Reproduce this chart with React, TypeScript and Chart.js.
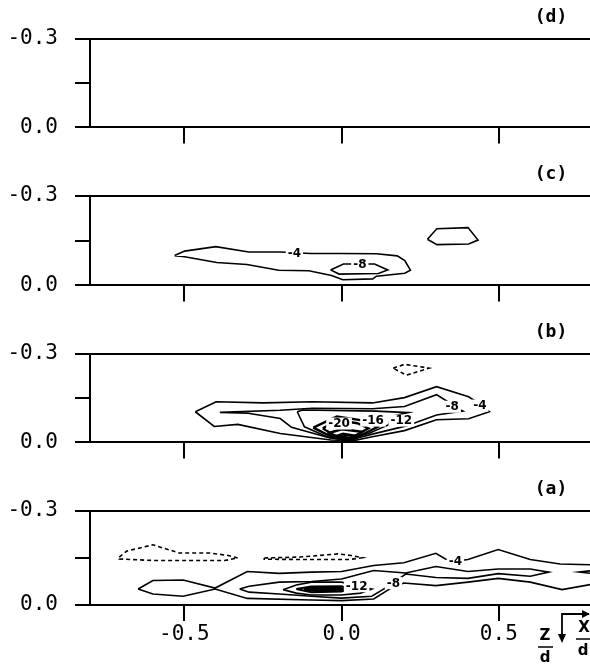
import React, { useEffect, useRef } from 'react';
import { Chart, registerables } from 'chart.js';

Chart.register(...registerables);

// ---------- axis / tick data ----------
const X_MIN = -0.8;
const X_MAX = 0.79;
const xTickValues = [-0.5, 0, 0.5];
const xTickLabels = ['-0.5', '0.0', '0.5'];
const yTickValues = [-0.3, -0.15, 0];
const yTickLabels = ['-0.3', '', '0.0'];
const panelNames = ['(d)', '(c)', '(b)', '(a)'];
const PANEL_NAME_X = 0.666;

type Pt = [number, number];

// ---------- panel (c) contours ----------
const cLevel4: Pt[] = [
  [-0.531, -0.100], [-0.499, -0.115], [-0.400, -0.130], [-0.295, -0.112], [-0.194, -0.112],
  [-0.098, -0.107], [-0.008, -0.107], [0.111, -0.106], [0.177, -0.099], [0.201, -0.083],
  [0.219, -0.051], [0.201, -0.041], [0.111, -0.031], [0.099, -0.022], [0.004, -0.019],
  [-0.032, -0.033], [-0.104, -0.049], [-0.200, -0.051], [-0.301, -0.070], [-0.397, -0.077],
  [-0.499, -0.096], [-0.531, -0.100],
];
const cLevel8: Pt[] = [
  [-0.035, -0.052], [0.006, -0.072], [0.105, -0.072], [0.147, -0.052], [0.117, -0.040],
  [-0.008, -0.038], [-0.035, -0.052],
];
const cUpper: Pt[] = [
  [0.273, -0.155], [0.303, -0.190], [0.402, -0.194], [0.434, -0.152], [0.404, -0.139],
  [0.303, -0.137], [0.273, -0.155],
];
const cLabels = [
  { x: -0.150, y: -0.109, t: '-4' },
  { x: 0.058, y: -0.072, t: '-8' },
];

// ---------- panel (b) contours ----------
const bLevel4: Pt[] = [
  [-0.465, -0.104], [-0.399, -0.138], [-0.249, -0.134], [-0.094, -0.138], [0.098, -0.134],
  [0.200, -0.152], [0.302, -0.189], [0.404, -0.155], [0.444, -0.127], [0.470, -0.104],
  [0.404, -0.080], [0.302, -0.077], [0.200, -0.040], [0.098, -0.019], [0.038, -0.006],
  [-0.034, -0.008], [-0.195, -0.030], [-0.330, -0.061], [-0.405, -0.054], [-0.465, -0.104],
];
const bLevel8: Pt[] = [
  [-0.387, -0.102], [-0.195, -0.109], [-0.094, -0.116], [0.098, -0.114], [0.200, -0.122],
  [0.302, -0.162], [0.338, -0.138], [0.356, -0.122], [0.386, -0.106], [0.302, -0.093],
  [0.206, -0.056], [0.098, -0.028], [0.026, -0.008], [-0.034, -0.014], [-0.159, -0.051],
  [-0.195, -0.081], [-0.297, -0.099], [-0.387, -0.102],
];
const bLevel12: Pt[] = [
  [-0.141, -0.104], [-0.124, -0.110], [0.110, -0.106], [0.212, -0.101], [0.158, -0.088],
  [0.150, -0.060], [0.086, -0.030], [0.014, -0.010], [-0.046, -0.019], [-0.118, -0.053],
  [-0.141, -0.104],
];
const bLevel16: Pt[] = [
  [-0.090, -0.050], [-0.015, -0.088], [0.065, -0.075], [0.115, -0.053], [0.040, -0.012],
  [-0.030, -0.018], [-0.090, -0.050],
];
const bLevel20: Pt[] = [
  [-0.060, -0.048], [-0.010, -0.075], [0.050, -0.065], [0.085, -0.048], [0.030, -0.015],
  [-0.020, -0.022], [-0.060, -0.048],
];
const bLevel24: Pt[] = [
  [-0.045, -0.030], [0.000, -0.045], [0.065, -0.036], [0.030, -0.008], [-0.045, -0.030],
];
const bLevel28: Pt[] = [
  [-0.025, -0.018], [0.005, -0.028], [0.048, -0.021], [0.020, -0.004], [-0.025, -0.018],
];
const bDashed: Pt[] = [
  [0.164, -0.252], [0.200, -0.265], [0.278, -0.252], [0.206, -0.228], [0.164, -0.252],
];
const bLabels = [
  { x: 0.440, y: -0.125, t: '-4' },
  { x: 0.352, y: -0.121, t: '-8' },
  { x: 0.100, y: -0.074, t: '-16' },
  { x: 0.190, y: -0.074, t: '-12' },
  { x: -0.008, y: -0.064, t: '-20' },
];

// ---------- panel (a) contours ----------
const aLevel4: Pt[] = [
  [-0.647, -0.051], [-0.600, -0.078], [-0.504, -0.080], [-0.402, -0.054], [-0.300, -0.107],
  [-0.198, -0.101], [-0.096, -0.105], [0.000, -0.107], [0.102, -0.126], [0.198, -0.135],
  [0.300, -0.165], [0.330, -0.147], [0.362, -0.140], [0.402, -0.145], [0.498, -0.177],
  [0.600, -0.145], [0.695, -0.131], [0.800, -0.128], [0.800, -0.067], [0.701, -0.049],
  [0.600, -0.073], [0.498, -0.085], [0.402, -0.073], [0.300, -0.062], [0.198, -0.070],
  [0.156, -0.053], [0.102, -0.019], [0.000, -0.014], [-0.096, -0.016], [-0.300, -0.021],
  [-0.402, -0.051], [-0.504, -0.028], [-0.600, -0.035], [-0.647, -0.051],
];
const aLevel8: Pt[] = [
  [-0.324, -0.051], [-0.294, -0.060], [-0.198, -0.073], [-0.096, -0.075], [0.000, -0.083],
  [0.102, -0.110], [0.204, -0.102], [0.300, -0.123], [0.402, -0.107], [0.498, -0.115],
  [0.600, -0.115], [0.659, -0.105], [0.600, -0.092], [0.498, -0.100], [0.402, -0.085],
  [0.300, -0.088], [0.204, -0.099], [0.162, -0.070], [0.144, -0.057], [0.096, -0.028],
  [0.000, -0.022], [-0.096, -0.028], [-0.198, -0.035], [-0.294, -0.041], [-0.324, -0.051],
];
const aEdge: Pt[] = [[0.800, -0.110], [0.755, -0.105], [0.800, -0.100]];
const aLevel12: Pt[] = [
  [-0.186, -0.049], [-0.144, -0.064], [-0.096, -0.073], [0.000, -0.073], [0.048, -0.060],
  [0.096, -0.051], [0.060, -0.038], [0.000, -0.032], [-0.096, -0.032], [-0.144, -0.038],
  [-0.186, -0.049],
];
const aLevel16: Pt[] = [
  [-0.144, -0.051], [-0.096, -0.059], [0.000, -0.060], [0.024, -0.051], [0.000, -0.043],
  [-0.096, -0.041], [-0.144, -0.051],
];
const aLevel20: Pt[] = [
  [-0.120, -0.051], [-0.084, -0.055], [-0.006, -0.054], [0.006, -0.049], [-0.084, -0.046],
  [-0.120, -0.051],
];
const aDashedLeft: Pt[] = [
  [-0.707, -0.153], [-0.683, -0.172], [-0.600, -0.192], [-0.516, -0.166], [-0.420, -0.166],
  [-0.360, -0.158], [-0.330, -0.150], [-0.372, -0.142], [-0.492, -0.142], [-0.600, -0.142],
  [-0.707, -0.147], [-0.707, -0.153],
];
const aDashedMid: Pt[] = [
  [-0.246, -0.150], [-0.132, -0.153], [-0.012, -0.163], [0.030, -0.158], [0.066, -0.151],
  [0.024, -0.145], [-0.072, -0.145], [-0.246, -0.146], [-0.246, -0.150],
];
const aLabels = [
  { x: 0.362, y: -0.140, t: '-4' },
  { x: 0.165, y: -0.070, t: '-8' },
  { x: 0.048, y: -0.060, t: '-12' },
];

type Contour = { pts: Pt[]; dashed?: boolean; width?: number };
type Panel = { name: string; contours: Contour[]; labels: { x: number; y: number; t: string }[]; showX: boolean };

const panels: Panel[] = [
  { name: panelNames[0], contours: [], labels: [], showX: false },
  {
    name: panelNames[1],
    contours: [{ pts: cLevel4 }, { pts: cLevel8 }, { pts: cUpper }],
    labels: cLabels,
    showX: false,
  },
  {
    name: panelNames[2],
    contours: [
      { pts: bLevel4 }, { pts: bLevel8 }, { pts: bLevel12 }, { pts: bLevel16, width: 2.4 },
      { pts: bLevel20, width: 2.4 }, { pts: bLevel24, width: 2.6 }, { pts: bLevel28, width: 3 },
      { pts: bDashed, dashed: true },
    ],
    labels: bLabels,
    showX: false,
  },
  {
    name: panelNames[3],
    contours: [
      { pts: aLevel4 }, { pts: aLevel8 }, { pts: aEdge }, { pts: aLevel12 },
      { pts: aLevel16, width: 2 }, { pts: aLevel20, width: 3 },
      { pts: aDashedLeft, dashed: true }, { pts: aDashedMid, dashed: true },
    ],
    labels: aLabels,
    showX: true,
  },
];

const MONO = '"DejaVu Sans Mono", monospace';
const PANEL_TOPS = [0, 157, 315, 472];
const CANVAS_W = 590;
const TOP_H = 39;
const PLOT_H = 94;

const labelPlugin = {
  id: 'contourLabels',
  afterDatasetsDraw(chart: any, _args: any, opts: any) {
    const items = (opts && opts.items) || [];
    const { ctx } = chart;
    const xs = chart.scales.x;
    const ys = chart.scales.y;
    ctx.save();
    ctx.font = 'bold 12px "DejaVu Sans", sans-serif';
    ctx.textAlign = 'center';
    ctx.textBaseline = 'middle';
    for (const it of items) {
      const px = xs.getPixelForValue(it.x);
      const py = ys.getPixelForValue(it.y);
      const w = ctx.measureText(it.t).width;
      ctx.fillStyle = '#fff';
      ctx.fillRect(px - w / 2 - 2, py - 6, w + 4, 12);
      ctx.fillStyle = '#000';
      ctx.fillText(it.t, px, py + 0.5);
    }
    ctx.restore();
  },
};

const axisNotePlugin = {
  id: 'axisNote',
  afterDraw(chart: any, _args: any, opts: any) {
    if (!opts || !opts.show) return;
    const { ctx, chartArea } = chart;
    const b = chartArea.bottom;
    const vx = 562;
    const hy = b + 9;
    ctx.save();
    ctx.strokeStyle = '#000';
    ctx.fillStyle = '#000';
    ctx.lineWidth = 1.8;
    ctx.beginPath();
    ctx.moveTo(vx, hy + 26);
    ctx.lineTo(vx, hy);
    ctx.lineTo(589, hy);
    ctx.stroke();
    ctx.beginPath();
    ctx.moveTo(vx - 4, hy + 20);
    ctx.lineTo(vx + 4, hy + 20);
    ctx.lineTo(vx, hy + 29);
    ctx.closePath();
    ctx.fill();
    ctx.beginPath();
    ctx.moveTo(582, hy - 4);
    ctx.lineTo(582, hy + 4);
    ctx.lineTo(590, hy);
    ctx.closePath();
    ctx.fill();
    ctx.font = 'bold 15px "DejaVu Sans", sans-serif';
    ctx.textAlign = 'center';
    ctx.textBaseline = 'middle';
    ctx.fillText('Z', 545, b + 31);
    ctx.fillText('d', 545, b + 53);
    ctx.fillText('X', 584, b + 23);
    ctx.fillText('d', 583, b + 46);
    ctx.lineWidth = 1.6;
    ctx.beginPath();
    ctx.moveTo(538, b + 42);
    ctx.lineTo(553, b + 42);
    ctx.moveTo(576, b + 34);
    ctx.lineTo(590, b + 34);
    ctx.stroke();
    ctx.restore();
  },
};

function PanelChart({ panel, height }: { panel: Panel; height: number }) {
  const ref = useRef<HTMLCanvasElement | null>(null);
  useEffect(() => {
    if (!ref.current) return;
    const bottomH = height - TOP_H - PLOT_H;
    const datasets = panel.contours.map((c) => ({
      data: c.pts.map(([x, y]) => ({ x, y })),
      borderColor: '#000',
      borderWidth: c.width ?? 1.6,
      borderDash: c.dashed ? [4, 3] : [],
      pointRadius: 0,
      tension: 0,
      fill: false,
      showLine: true,
    }));
    const chart = new Chart(ref.current, {
      type: 'line',
      data: { datasets },
      plugins: [labelPlugin, axisNotePlugin],
      options: {
        animation: false,
        responsive: false,
        maintainAspectRatio: false,
        events: [],
        layout: { padding: 0 },
        plugins: {
          legend: { display: false },
          tooltip: { enabled: false },
          contourLabels: { items: panel.labels },
          axisNote: { show: panel.showX },
        } as any,
        scales: {
          x: {
            type: 'linear',
            position: 'bottom',
            min: X_MIN,
            max: X_MAX,
            afterBuildTicks: (s: any) => {
              s.ticks = xTickValues.map((v) => ({ value: v }));
            },
            afterFit: (s: any) => {
              s.height = bottomH;
            },
            grid: { drawOnChartArea: false, drawTicks: true, tickLength: 16, color: '#000', lineWidth: 2 },
            border: { display: true, color: '#000', width: 2 },
            ticks: {
              display: panel.showX,
              padding: 3,
              color: '#000',
              maxRotation: 0,
              font: { family: MONO, size: 21, lineHeight: 1 },
              callback: (_v: any, i: number) => xTickLabels[i],
            },
          },
          xTop: {
            type: 'linear',
            position: 'top',
            min: X_MIN,
            max: X_MAX,
            afterBuildTicks: (s: any) => {
              s.ticks = [{ value: PANEL_NAME_X }];
            },
            afterFit: (s: any) => {
              s.height = TOP_H;
            },
            grid: { display: false, drawTicks: false },
            border: { display: true, color: '#000', width: 2 },
            ticks: {
              padding: 11,
              color: '#000',
              maxRotation: 0,
              font: { family: MONO, size: 18, weight: 'bold' },
              callback: () => panel.name,
            },
          },
          y: {
            type: 'linear',
            position: 'left',
            min: -0.3,
            max: 0,
            reverse: true,
            afterBuildTicks: (s: any) => {
              s.ticks = yTickValues.map((v) => ({ value: v }));
            },
            afterFit: (s: any) => {
              s.width = 90;
            },
            grid: { drawOnChartArea: false, drawTicks: true, tickLength: 15, color: '#000', lineWidth: 2 },
            border: { display: true, color: '#000', width: 2 },
            ticks: {
              padding: 17,
              color: '#000',
              font: { family: MONO, size: 21 },
              callback: (_v: any, i: number) => yTickLabels[i],
            },
          },
        },
      } as any,
    });
    return () => chart.destroy();
  }, [panel, height]);
  return <canvas ref={ref} width={CANVAS_W} height={height} style={{ display: 'block', width: CANVAS_W, height }} />;
}

export default function App() {
  return (
    <div style={{ position: 'absolute', left: 0, top: 0, width: 590, height: 668, background: '#fff', overflow: 'hidden' }}>
      {panels.map((p, i) => {
        const top = PANEL_TOPS[i];
        const h = i < panels.length - 1 ? PANEL_TOPS[i + 1] - top : 668 - top;
        return (
          <div key={p.name} style={{ position: 'absolute', left: 0, top, width: CANVAS_W, height: h }}>
            <PanelChart panel={p} height={h} />
          </div>
        );
      })}
    </div>
  );
}
